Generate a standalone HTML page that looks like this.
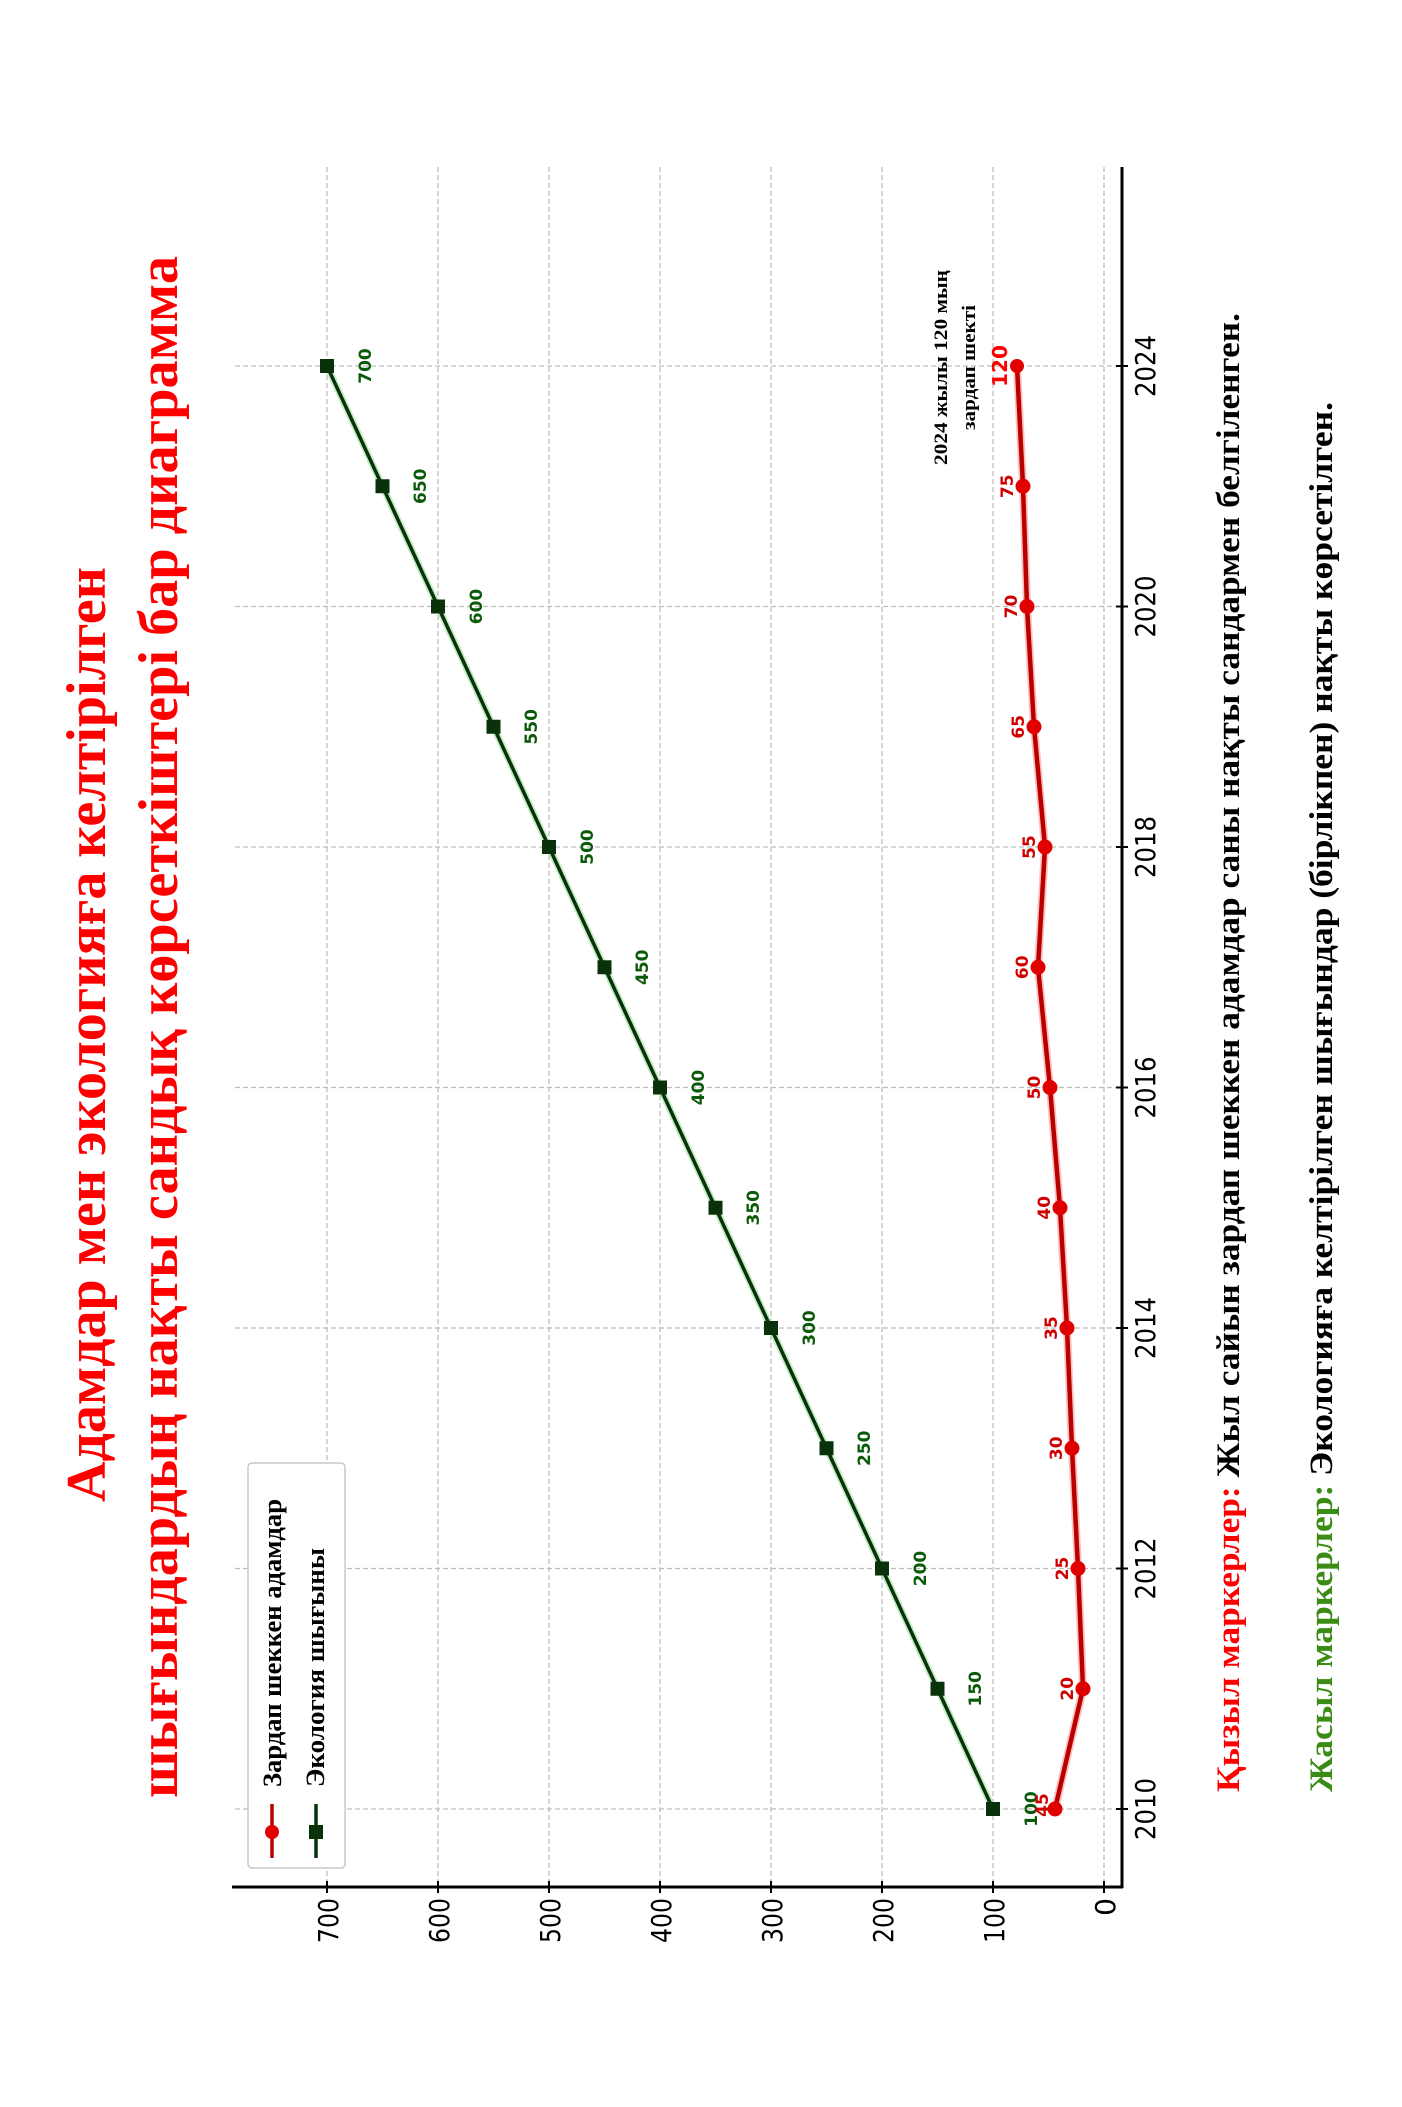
<!DOCTYPE html>
<html><head><meta charset="utf-8"><style>html,body{margin:0;padding:0;background:#fff}svg{display:block}</style></head>
<body>
<svg width="1402" height="2107" viewBox="0 0 1402 2107" xmlns="http://www.w3.org/2000/svg">
<rect width="1402" height="2107" fill="#fff"/>
<!-- Titles -->
<g font-family="Liberation Serif, serif" font-weight="bold" fill="#ff0000" font-size="56">
<text transform="translate(105,1502) rotate(-90)" textLength="935" lengthAdjust="spacingAndGlyphs">Адамдар мен экологияға келтірілген</text>
<text transform="translate(177,1798) rotate(-90)" textLength="1542" lengthAdjust="spacingAndGlyphs">шығындардың нақты сандық көрсеткіштері бар диаграмма</text>
</g>
<!-- grid -->
<g stroke="#bdbdbd" stroke-width="1.3" stroke-dasharray="5,3" fill="none">
<line x1="327" y1="167" x2="327" y2="1887"/><line x1="438" y1="167" x2="438" y2="1887"/>
<line x1="549" y1="167" x2="549" y2="1887"/><line x1="660" y1="167" x2="660" y2="1887"/>
<line x1="771" y1="167" x2="771" y2="1887"/><line x1="882" y1="167" x2="882" y2="1887"/>
<line x1="993" y1="167" x2="993" y2="1887"/><line x1="1104" y1="167" x2="1104" y2="1887"/>
<line x1="235" y1="1809" x2="1122" y2="1809"/><line x1="235" y1="1568.5" x2="1122" y2="1568.5"/>
<line x1="235" y1="1328" x2="1122" y2="1328"/><line x1="235" y1="1087.5" x2="1122" y2="1087.5"/>
<line x1="235" y1="847" x2="1122" y2="847"/><line x1="235" y1="606.5" x2="1122" y2="606.5"/>
<line x1="235" y1="366" x2="1122" y2="366"/>
</g>
<!-- axes -->
<g stroke="#000" stroke-width="3">
<line x1="232" y1="1887" x2="1123" y2="1887"/>
<line x1="1122" y1="167" x2="1122" y2="1888"/>
</g>
<g stroke="#000" stroke-width="2">
<line x1="327" y1="1881" x2="327" y2="1893"/><line x1="438" y1="1881" x2="438" y2="1893"/>
<line x1="549" y1="1881" x2="549" y2="1893"/><line x1="660" y1="1881" x2="660" y2="1893"/>
<line x1="771" y1="1881" x2="771" y2="1893"/><line x1="882" y1="1881" x2="882" y2="1893"/>
<line x1="993" y1="1881" x2="993" y2="1893"/><line x1="1104" y1="1881" x2="1104" y2="1893"/>
<line x1="1116" y1="1809" x2="1128" y2="1809"/><line x1="1116" y1="1568.5" x2="1128" y2="1568.5"/>
<line x1="1116" y1="1328" x2="1128" y2="1328"/><line x1="1116" y1="1087.5" x2="1128" y2="1087.5"/>
<line x1="1116" y1="847" x2="1128" y2="847"/><line x1="1116" y1="606.5" x2="1128" y2="606.5"/>
<line x1="1116" y1="366" x2="1128" y2="366"/>
</g>
<!-- value tick labels -->
<g font-family="DejaVu Sans, sans-serif" font-size="28" fill="#000" text-anchor="end">
<text transform="translate(338,1898) rotate(-90)" textLength="45" lengthAdjust="spacingAndGlyphs">700</text>
<text transform="translate(449,1898) rotate(-90)" textLength="45" lengthAdjust="spacingAndGlyphs">600</text>
<text transform="translate(560,1898) rotate(-90)" textLength="45" lengthAdjust="spacingAndGlyphs">500</text>
<text transform="translate(671,1898) rotate(-90)" textLength="45" lengthAdjust="spacingAndGlyphs">400</text>
<text transform="translate(782,1898) rotate(-90)" textLength="45" lengthAdjust="spacingAndGlyphs">300</text>
<text transform="translate(893,1898) rotate(-90)" textLength="45" lengthAdjust="spacingAndGlyphs">200</text>
<text transform="translate(1004,1898) rotate(-90)" textLength="45" lengthAdjust="spacingAndGlyphs">100</text>
<text transform="translate(1115,1898) rotate(-90)">0</text>
</g>
<!-- year labels -->
<g font-family="DejaVu Sans, sans-serif" font-size="28" fill="#000" text-anchor="middle">
<text transform="translate(1155,1809) rotate(-90)" textLength="62" lengthAdjust="spacingAndGlyphs">2010</text>
<text transform="translate(1155,1568.5) rotate(-90)" textLength="62" lengthAdjust="spacingAndGlyphs">2012</text>
<text transform="translate(1155,1328) rotate(-90)" textLength="62" lengthAdjust="spacingAndGlyphs">2014</text>
<text transform="translate(1155,1087.5) rotate(-90)" textLength="62" lengthAdjust="spacingAndGlyphs">2016</text>
<text transform="translate(1155,847) rotate(-90)" textLength="62" lengthAdjust="spacingAndGlyphs">2018</text>
<text transform="translate(1155,606.5) rotate(-90)" textLength="62" lengthAdjust="spacingAndGlyphs">2020</text>
<text transform="translate(1155,366) rotate(-90)" textLength="62" lengthAdjust="spacingAndGlyphs">2024</text>
</g>
<!-- green series -->
<polyline fill="none" stroke="#9be09b" stroke-width="7" stroke-opacity="0.6" points="993,1809 937.5,1688.75 882,1568.5 826.5,1448.25 771,1328 715.5,1207.75 660,1087.5 604.5,967.25 549,847 493.5,726.75 438,606.5 382.5,486.25 327,366"/>
<polyline fill="none" stroke="#0a320a" stroke-width="3.5" points="993,1809 937.5,1688.75 882,1568.5 826.5,1448.25 771,1328 715.5,1207.75 660,1087.5 604.5,967.25 549,847 493.5,726.75 438,606.5 382.5,486.25 327,366"/>
<g fill="#0a320a">
<rect x="986" y="1802" width="14" height="14"/><rect x="930.5" y="1681.75" width="14" height="14"/>
<rect x="875" y="1561.5" width="14" height="14"/><rect x="819.5" y="1441.25" width="14" height="14"/>
<rect x="764" y="1321" width="14" height="14"/><rect x="708.5" y="1200.75" width="14" height="14"/>
<rect x="653" y="1080.5" width="14" height="14"/><rect x="597.5" y="960.25" width="14" height="14"/>
<rect x="542" y="840" width="14" height="14"/><rect x="486.5" y="719.75" width="14" height="14"/>
<rect x="431" y="599.5" width="14" height="14"/><rect x="375.5" y="479.25" width="14" height="14"/>
<rect x="320" y="359" width="14" height="14"/>
</g>
<g font-family="DejaVu Sans, sans-serif" font-weight="bold" font-size="17" fill="#0a5a0a" text-anchor="middle">
<text transform="translate(1037,1809) rotate(-90)">100</text>
<text transform="translate(981,1688.75) rotate(-90)">150</text>
<text transform="translate(926,1568.5) rotate(-90)">200</text>
<text transform="translate(870,1448.25) rotate(-90)">250</text>
<text transform="translate(815,1328) rotate(-90)">300</text>
<text transform="translate(759,1207.75) rotate(-90)">350</text>
<text transform="translate(704,1087.5) rotate(-90)">400</text>
<text transform="translate(648,967.25) rotate(-90)">450</text>
<text transform="translate(593,847) rotate(-90)">500</text>
<text transform="translate(537,726.75) rotate(-90)">550</text>
<text transform="translate(482,606.5) rotate(-90)">600</text>
<text transform="translate(426,486.25) rotate(-90)">650</text>
<text transform="translate(371,366) rotate(-90)">700</text>
</g>
<!-- red series -->
<polyline fill="none" stroke="#ff8080" stroke-width="8" stroke-opacity="0.5" points="1055,1809 1083,1688.75 1078,1568.5 1072,1448.25 1067,1328 1060,1207.75 1050,1087.5 1038,967.25 1045,847 1034,726.75 1027,606.5 1023,486.25 1017,366"/>
<polyline fill="none" stroke="#b80000" stroke-width="4.5" points="1055,1809 1083,1688.75 1078,1568.5 1072,1448.25 1067,1328 1060,1207.75 1050,1087.5 1038,967.25 1045,847 1034,726.75 1027,606.5 1023,486.25 1017,366"/>
<g fill="#e00000">
<circle cx="1055" cy="1809" r="7.5"/><circle cx="1083" cy="1688.75" r="7.5"/><circle cx="1078" cy="1568.5" r="7.5"/>
<circle cx="1072" cy="1448.25" r="7.5"/><circle cx="1067" cy="1328" r="7.5"/><circle cx="1060" cy="1207.75" r="7.5"/>
<circle cx="1050" cy="1087.5" r="7.5"/><circle cx="1038" cy="967.25" r="7.5"/><circle cx="1045" cy="847" r="7.5"/>
<circle cx="1034" cy="726.75" r="7.5"/><circle cx="1027" cy="606.5" r="7.5"/><circle cx="1023" cy="486.25" r="7.5"/>
<circle cx="1017" cy="366" r="7"/>
</g>
<g font-family="DejaVu Sans, sans-serif" font-weight="bold" font-size="17" fill="#d00000" text-anchor="middle">
<text transform="translate(1048,1805) rotate(-90)">45</text>
<text transform="translate(1073,1688.75) rotate(-90)">20</text>
<text transform="translate(1068,1568.5) rotate(-90)">25</text>
<text transform="translate(1062,1448.25) rotate(-90)">30</text>
<text transform="translate(1057,1328) rotate(-90)">35</text>
<text transform="translate(1050,1207.75) rotate(-90)">40</text>
<text transform="translate(1040,1087.5) rotate(-90)">50</text>
<text transform="translate(1028,967.25) rotate(-90)">60</text>
<text transform="translate(1035,847) rotate(-90)">55</text>
<text transform="translate(1024,726.75) rotate(-90)">65</text>
<text transform="translate(1017,606.5) rotate(-90)">70</text>
<text transform="translate(1013,486.25) rotate(-90)">75</text>
<text transform="translate(1007,366) rotate(-90)" font-size="20" fill="#ff0000">120</text>
</g>
<!-- annotation -->
<g font-family="Liberation Serif, serif" font-weight="bold" font-size="19" fill="#000">
<text transform="translate(947,465) rotate(-90)" textLength="195" lengthAdjust="spacingAndGlyphs">2024 жылы 120 мың</text>
<text transform="translate(975,430) rotate(-90)" textLength="125" lengthAdjust="spacingAndGlyphs">зардап шекті</text>
</g>
<!-- legend -->
<rect x="248" y="1463" width="97" height="405" rx="4" fill="#fff" stroke="#c8c8c8" stroke-width="1.5"/>
<line x1="272" y1="1804" x2="272" y2="1858" stroke="#b80000" stroke-width="3.5"/>
<circle cx="272" cy="1832" r="7" fill="#e00000"/>
<line x1="316" y1="1804" x2="316" y2="1858" stroke="#0a320a" stroke-width="3.5"/>
<rect x="309" y="1825" width="14" height="14" fill="#0a320a"/>
<g font-family="Liberation Serif, serif" font-weight="bold" font-size="26" fill="#000">
<text transform="translate(281,1787) rotate(-90)" textLength="288" lengthAdjust="spacingAndGlyphs">Зардап шеккен адамдар</text>
<text transform="translate(324,1787) rotate(-90)" textLength="239" lengthAdjust="spacingAndGlyphs">Экология шығыны</text>
</g>
<!-- notes -->
<g font-family="Liberation Serif, serif" font-weight="bold" font-size="33">
<text transform="translate(1239,1792) rotate(-90)" textLength="1479" lengthAdjust="spacingAndGlyphs"><tspan fill="#ff0000">Қызыл маркерлер:</tspan><tspan fill="#000"> Жыл сайын зардап шеккен адамдар саны нақты сандармен белгіленген.</tspan></text>
<text transform="translate(1332,1792) rotate(-90)" textLength="1390" lengthAdjust="spacingAndGlyphs"><tspan fill="#3a8c14">Жасыл маркерлер:</tspan><tspan fill="#000"> Экологияға келтірілген шығындар (бірлікпен) нақты көрсетілген.</tspan></text>
</g>
</svg>
</body></html>
